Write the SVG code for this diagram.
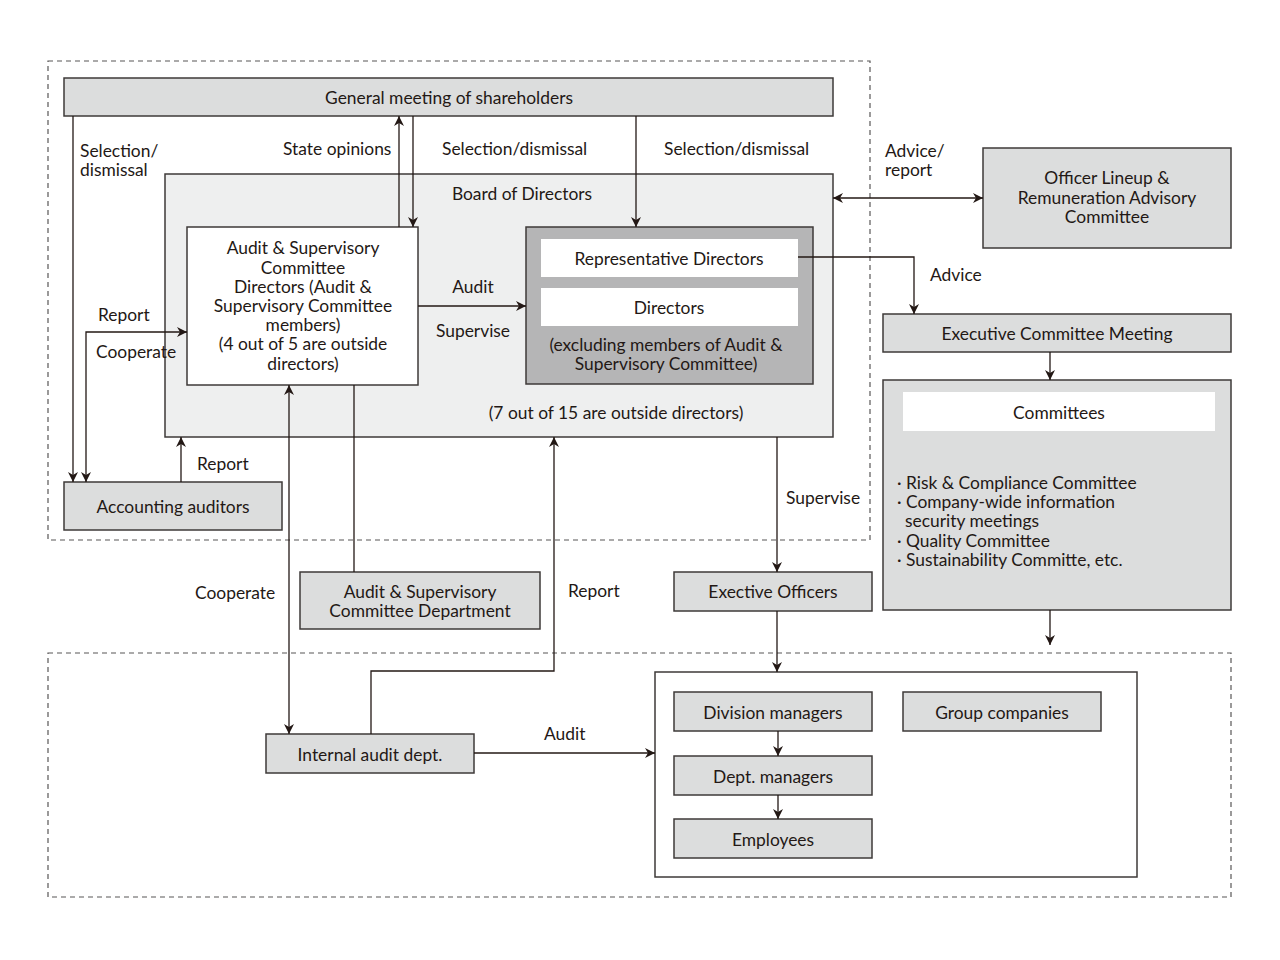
<svg xmlns="http://www.w3.org/2000/svg" width="1280" height="960" viewBox="0 0 1280 960">
<defs>
<marker id="ah" viewBox="0 0 10 10" refX="10" refY="5" markerWidth="10" markerHeight="10" markerUnits="userSpaceOnUse" orient="auto-start-reverse">
<path d="M0,0 L10,5 L0,10 L3,5 z" fill="#231815"/>
</marker>
</defs>
<style>
text{font-family:Lato,"Open Sans","Liberation Sans",sans-serif;font-size:17.4px;fill:#231815}
.c{text-anchor:middle}
.box{fill:#dcdddd;stroke:#3e3a39;stroke-width:1.5}
.wbox{fill:#ffffff;stroke:#3e3a39;stroke-width:1.5}
.inner{fill:#ffffff;stroke:none}
.dash{fill:none;stroke:#595757;stroke-width:1.2;stroke-dasharray:5,4}
.ln{fill:none;stroke:#231815;stroke-width:1.3}
.a{marker-end:url(#ah)}
.aa{marker-end:url(#ah);marker-start:url(#ah)}
</style>
<rect width="1280" height="960" fill="#ffffff"/>
<rect class="dash" x="48" y="61" width="822" height="479"/>
<rect class="dash" x="48" y="653" width="1183" height="244"/>

<g id="board">
<rect x="165" y="174" width="668" height="263" fill="#eeefef" stroke="#3e3a39" stroke-width="1.5"/>
<text class="c" x="522" y="200">Board of Directors</text>
<text class="c" x="616" y="419">(7 out of 15 are outside directors)</text>
</g>
<g id="shareholders">
<rect class="box" x="64" y="78" width="769" height="38"/>
<text class="c" x="449" y="104">General meeting of shareholders</text>
</g>
<g id="asc">
<rect class="wbox" x="187" y="227" width="231" height="158"/>
<text class="c" x="303" y="254">Audit &amp; Supervisory</text>
<text class="c" x="303" y="274">Committee</text>
<text class="c" x="303" y="293">Directors (Audit &amp;</text>
<text class="c" x="303" y="312">Supervisory Committee</text>
<text class="c" x="303" y="331">members)</text>
<text class="c" x="303" y="350">(4 out of 5 are outside</text>
<text class="c" x="303" y="370">directors)</text>
</g>
<g id="directors">
<rect x="526" y="227" width="287" height="157" fill="#b5b5b6" stroke="#3e3a39" stroke-width="1.5"/>
<rect class="inner" x="541" y="239" width="257" height="38"/>
<text class="c" x="669" y="265">Representative Directors</text>
<rect class="inner" x="541" y="288" width="257" height="38"/>
<text class="c" x="669" y="314">Directors</text>
<text class="c" x="666" y="351">(excluding members of Audit &amp;</text>
<text class="c" x="666" y="370">Supervisory Committee)</text>
</g>
<g id="officer-lineup">
<rect class="box" x="983" y="148" width="248" height="100"/>
<text class="c" x="1107" y="184">Officer Lineup &amp;</text>
<text class="c" x="1107" y="204">Remuneration Advisory</text>
<text class="c" x="1107" y="223">Committee</text>
</g>
<g id="exec-committee">
<rect class="box" x="883" y="314" width="348" height="38"/>
<text class="c" x="1057" y="340">Executive Committee Meeting</text>
</g>
<g id="committees">
<rect class="box" x="883" y="380" width="348" height="230"/>
<rect class="inner" x="903" y="392" width="312" height="39"/>
<text class="c" x="1059" y="419">Committees</text>
<text x="897" y="489">· Risk &amp; Compliance Committee</text>
<text x="897" y="508">· Company-wide information</text>
<text x="905" y="527">security meetings</text>
<text x="897" y="547">· Quality Committee</text>
<text x="897" y="566">· Sustainability Committe, etc.</text>
</g>
<g id="accounting-auditors">
<rect class="box" x="64" y="482" width="218" height="48"/>
<text class="c" x="173" y="513">Accounting auditors</text>
</g>
<g id="asc-dept">
<rect class="box" x="300" y="572" width="240" height="57"/>
<text class="c" x="420" y="598">Audit &amp; Supervisory</text>
<text class="c" x="420" y="617">Committee Department</text>
</g>
<g id="executive-officers">
<rect class="box" x="674" y="572" width="198" height="39"/>
<text class="c" x="773" y="598">Exective Officers</text>
</g>
<g id="internal-audit">
<rect class="box" x="266" y="734" width="208" height="39"/>
<text class="c" x="370" y="761">Internal audit dept.</text>
</g>
<g id="organization">
<rect class="wbox" x="655" y="672" width="482" height="205"/>
</g>
<g id="division-managers">
<rect class="box" x="674" y="692" width="198" height="39"/>
<text class="c" x="773" y="719">Division managers</text>
</g>
<g id="group-companies">
<rect class="box" x="903" y="692" width="198" height="39"/>
<text class="c" x="1002" y="719">Group companies</text>
</g>
<g id="dept-managers">
<rect class="box" x="674" y="756" width="198" height="39"/>
<text class="c" x="773" y="783">Dept. managers</text>
</g>
<g id="employees">
<rect class="box" x="674" y="819" width="198" height="39"/>
<text class="c" x="773" y="846">Employees</text>
</g>

<g id="connectors">
<path class="ln a" d="M73,116 V482"/>
<path class="ln aa" d="M86,482 V332 H187"/>
<path class="ln a" d="M181,482 V437"/>
<path class="ln a" d="M399,227 V116"/>
<path class="ln a" d="M413,116 V227"/>
<path class="ln a" d="M636,116 V227"/>
<path class="ln a" d="M418,306 H526"/>
<path class="ln aa" d="M833,198 H983"/>
<path class="ln a" d="M798,257 H914 V314"/>
<path class="ln a" d="M1050,352 V380"/>
<path class="ln a" d="M1050,610 V645"/>
<path class="ln a" d="M777,437 V572"/>
<path class="ln a" d="M777,611 V672"/>
<path class="ln aa" d="M289,385 V734"/>
<path class="ln" d="M354,385 V572"/>
<path class="ln a" d="M371,734 V671 H554 V437"/>
<path class="ln a" d="M474,753 H655"/>
<path class="ln a" d="M778,731 V756"/>
<path class="ln a" d="M778,795 V819"/>
<text x="80" y="157">Selection/</text>
<text x="80" y="176">dismissal</text>
<text x="283" y="155">State opinions</text>
<text x="442" y="155">Selection/dismissal</text>
<text x="664" y="155">Selection/dismissal</text>
<text class="c" x="473" y="293">Audit</text>
<text class="c" x="473" y="337">Supervise</text>
<text x="98" y="321">Report</text>
<text x="96" y="358">Cooperate</text>
<text x="197" y="470">Report</text>
<text x="885" y="157">Advice/</text>
<text x="885" y="176">report</text>
<text x="930" y="281">Advice</text>
<text x="786" y="504">Supervise</text>
<text x="195" y="599">Cooperate</text>
<text x="568" y="597">Report</text>
<text x="544" y="740">Audit</text>
</g>
</svg>
